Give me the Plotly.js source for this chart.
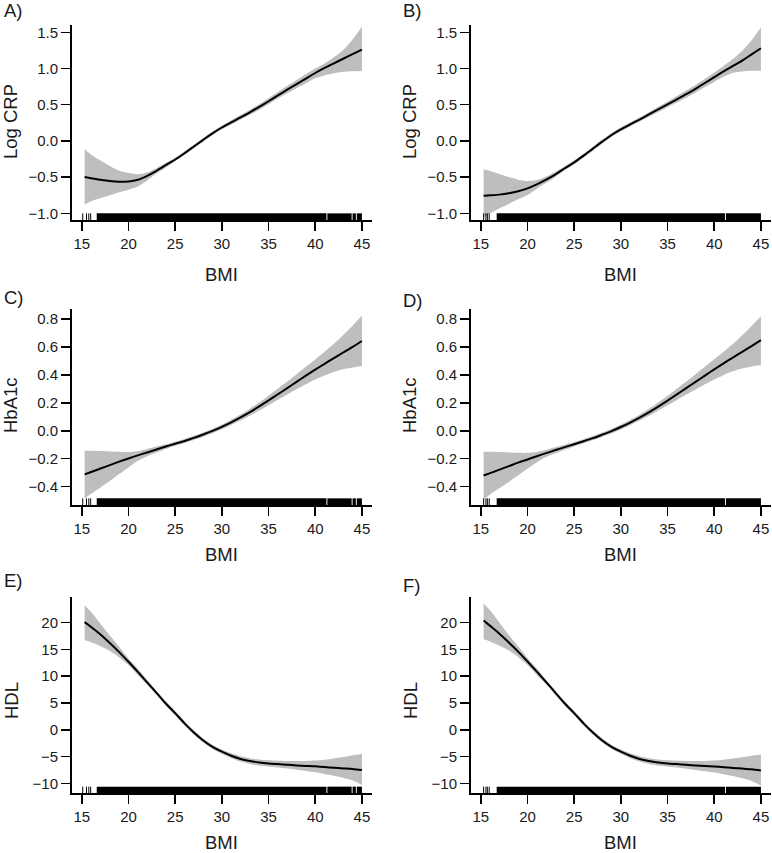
<!DOCTYPE html>
<html>
<head>
<meta charset="utf-8">
<script src="https://cdn.plot.ly/plotly-3.0.1.min.js"></script>
<style>html,body{margin:0;padding:0;background:#fff;}#chart{width:772px;height:853px;}</style>
</head>
<body>
<div id="chart"></div>
<script>
// ---------- data ----------
const bmi = [15.3,16,17,18,19,20,21,22,23,24,25,26,27,28,29,30,31,32,33,34,35,36,37,38,39,40,41,42,43,44,45];

const crpA_fit = [-0.50,-0.515,-0.537,-0.555,-0.564,-0.56,-0.537,-0.482,-0.413,-0.335,-0.257,-0.17,-0.078,0.014,0.105,0.185,0.257,0.325,0.395,0.47,0.548,0.628,0.707,0.784,0.861,0.938,1.008,1.072,1.135,1.198,1.26];
const crpA_hi  = [-0.115,-0.19,-0.27,-0.345,-0.41,-0.445,-0.46,-0.435,-0.376,-0.303,-0.232,-0.145,-0.053,0.039,0.13,0.21,0.287,0.357,0.43,0.508,0.59,0.675,0.757,0.84,0.922,1.0,1.07,1.155,1.255,1.40,1.58];
const crpA_lo  = [-0.88,-0.835,-0.79,-0.75,-0.71,-0.674,-0.63,-0.546,-0.45,-0.367,-0.282,-0.195,-0.103,-0.011,0.08,0.16,0.227,0.293,0.36,0.432,0.506,0.585,0.657,0.728,0.797,0.865,0.905,0.935,0.955,0.963,0.965];

const crpB_fit = [-0.756,-0.751,-0.742,-0.724,-0.696,-0.655,-0.60,-0.535,-0.461,-0.378,-0.296,-0.204,-0.107,-0.01,0.082,0.16,0.228,0.295,0.365,0.435,0.505,0.575,0.645,0.72,0.80,0.88,0.96,1.035,1.11,1.195,1.28];
const crpB_hi  = [-0.39,-0.415,-0.457,-0.50,-0.535,-0.553,-0.54,-0.49,-0.425,-0.35,-0.268,-0.176,-0.079,0.018,0.11,0.188,0.256,0.325,0.397,0.471,0.545,0.62,0.695,0.773,0.857,0.945,1.035,1.13,1.245,1.39,1.57];
const crpB_lo  = [-1.06,-1.0,-0.93,-0.87,-0.807,-0.747,-0.66,-0.578,-0.497,-0.406,-0.324,-0.232,-0.135,-0.038,0.054,0.132,0.20,0.265,0.333,0.399,0.465,0.53,0.595,0.667,0.743,0.815,0.885,0.94,0.96,0.968,0.97];

const hbC_fit = [-0.312,-0.295,-0.27,-0.246,-0.221,-0.198,-0.176,-0.155,-0.134,-0.113,-0.093,-0.073,-0.051,-0.027,-0.001,0.028,0.06,0.095,0.133,0.174,0.217,0.261,0.305,0.35,0.394,0.437,0.479,0.52,0.56,0.60,0.642];
const hbC_hi  = [-0.143,-0.143,-0.145,-0.148,-0.15,-0.152,-0.146,-0.13,-0.113,-0.096,-0.078,-0.058,-0.036,-0.012,0.015,0.045,0.079,0.116,0.158,0.203,0.251,0.302,0.352,0.405,0.458,0.51,0.565,0.623,0.686,0.752,0.824];
const hbC_lo  = [-0.484,-0.45,-0.405,-0.36,-0.31,-0.262,-0.215,-0.182,-0.156,-0.131,-0.108,-0.088,-0.066,-0.042,-0.017,0.011,0.041,0.074,0.108,0.145,0.183,0.222,0.26,0.297,0.332,0.366,0.395,0.42,0.44,0.453,0.463];

const hbD_fit = [-0.32,-0.303,-0.278,-0.253,-0.228,-0.205,-0.182,-0.16,-0.138,-0.117,-0.096,-0.075,-0.053,-0.028,-0.002,0.027,0.059,0.094,0.132,0.173,0.216,0.26,0.305,0.35,0.395,0.439,0.482,0.524,0.565,0.606,0.648];
const hbD_hi  = [-0.15,-0.15,-0.152,-0.155,-0.157,-0.158,-0.151,-0.136,-0.117,-0.1,-0.081,-0.06,-0.038,-0.013,0.014,0.044,0.078,0.115,0.157,0.202,0.25,0.301,0.352,0.405,0.458,0.511,0.565,0.622,0.684,0.75,0.82];
const hbD_lo  = [-0.49,-0.455,-0.41,-0.366,-0.318,-0.272,-0.225,-0.188,-0.161,-0.136,-0.112,-0.09,-0.068,-0.043,-0.018,0.01,0.04,0.073,0.107,0.144,0.182,0.221,0.259,0.296,0.333,0.367,0.398,0.425,0.446,0.46,0.47];

const hdlE_fit = [20.1,19.2,17.8,16.2,14.5,12.7,10.8,8.85,6.9,4.9,3.1,1.2,-0.5,-2.0,-3.2,-4.1,-4.85,-5.45,-5.85,-6.12,-6.3,-6.42,-6.54,-6.66,-6.75,-6.84,-6.97,-7.1,-7.22,-7.34,-7.53];
const hdlE_hi  = [23.2,22.0,19.8,17.6,15.5,13.3,11.4,9.3,7.3,5.3,3.5,1.6,-0.1,-1.6,-2.8,-3.7,-4.4,-4.95,-5.3,-5.55,-5.72,-5.78,-5.82,-5.85,-5.82,-5.75,-5.6,-5.35,-5.1,-4.8,-4.55];
const hdlE_lo  = [16.7,16.35,15.6,14.7,13.5,12.1,10.2,8.4,6.5,4.5,2.7,0.8,-0.9,-2.4,-3.6,-4.5,-5.3,-5.95,-6.4,-6.7,-6.88,-7.06,-7.26,-7.47,-7.7,-7.96,-8.27,-8.6,-9.0,-9.45,-10.3];

const hdlF_fit = [20.4,19.4,17.95,16.3,14.6,12.75,10.85,8.9,6.9,4.9,3.1,1.2,-0.5,-2.0,-3.2,-4.1,-4.85,-5.45,-5.85,-6.12,-6.3,-6.42,-6.55,-6.67,-6.77,-6.87,-7.0,-7.13,-7.26,-7.4,-7.6];
const hdlF_hi  = [23.6,22.3,20.0,17.7,15.6,13.4,11.45,9.35,7.3,5.3,3.5,1.6,-0.1,-1.6,-2.8,-3.7,-4.4,-4.95,-5.3,-5.55,-5.72,-5.78,-5.82,-5.85,-5.82,-5.75,-5.6,-5.38,-5.13,-4.85,-4.6];
const hdlF_lo  = [16.9,16.5,15.7,14.8,13.6,12.1,10.25,8.45,6.5,4.5,2.7,0.8,-0.9,-2.4,-3.6,-4.5,-5.3,-5.95,-6.4,-6.7,-6.88,-7.07,-7.28,-7.5,-7.74,-8.0,-8.32,-8.66,-9.07,-9.55,-10.4];

// rug (observed BMI values): isolated ticks and dense runs
const rugLeftSingles  = [15.1, 15.5, 15.75, 15.95];
const rugLeftRunStart = [16.6, 41.3, 44.0, 44.45];
const rugLeftRunEnd   = [41.2, 43.9, 44.35, 45.0];
const rugRightSingles  = [15.3, 15.55, 15.7, 15.9];
const rugRightRunStart = [16.7, 41.25];
const rugRightRunEnd   = [41.15, 45.0];

const xTicks = [15, 20, 25, 30, 35, 40, 45];
const crpTicks = [-1.0, -0.5, 0.0, 0.5, 1.0, 1.5];
const crpTickText = ["\u22121.0", "\u22120.5", "0.0", "0.5", "1.0", "1.5"];
const hbTicks = [-0.4, -0.2, 0.0, 0.2, 0.4, 0.6, 0.8];
const hbTickText = ["\u22120.4", "\u22120.2", "0.0", "0.2", "0.4", "0.6", "0.8"];
const hdlTicks = [-10, -5, 0, 5, 10, 15, 20];
const hdlTickText = ["\u221210", "\u22125", "0", "5", "10", "15", "20"];

const panelLabels = ["A)", "B)", "C)", "D)", "E)", "F)"];
const yTitles = ["Log CRP", "Log CRP", "HbA1c", "HbA1c", "HDL", "HDL"];
const xTitle = "BMI";

// ---------- layout geometry ----------
const W = 772, H = 853;
const colPx = [[72, 372], [471, 771]];
const rowPx = [[25, 220], [309.3, 505], [597.3, 793.3]];
const xRange = [13.95, 46.08];
const yRanges = [[-1.0925, 1.601], [-0.531, 0.869], [-11.87, 24.74]];
const labelPos = [[2, 10], [401, 10], [2, 298], [401, 300], [2, 580], [401, 585]];
const yTitleY = [122, 122, 405, 405, 701, 701];
const xTitleY = [274.5, 274.5, 554.5, 554.5, 842, 842];

const panels = [
  {fit: crpA_fit, hi: crpA_hi, lo: crpA_lo, ticks: crpTicks, text: crpTickText, side: 0},
  {fit: crpB_fit, hi: crpB_hi, lo: crpB_lo, ticks: crpTicks, text: crpTickText, side: 1},
  {fit: hbC_fit,  hi: hbC_hi,  lo: hbC_lo,  ticks: hbTicks,  text: hbTickText,  side: 0},
  {fit: hbD_fit,  hi: hbD_hi,  lo: hbD_lo,  ticks: hbTicks,  text: hbTickText,  side: 1},
  {fit: hdlE_fit, hi: hdlE_hi, lo: hdlE_lo, ticks: hdlTicks, text: hdlTickText, side: 0},
  {fit: hdlF_fit, hi: hdlF_hi, lo: hdlF_lo, ticks: hdlTicks, text: hdlTickText, side: 1}
];

const FONT = "Liberation Sans, Arial, Helvetica, sans-serif";
const traces = [];
const shapes = [];
const annotations = [];
const layout = {
  width: W, height: H,
  margin: {l: 0, r: 0, t: 0, b: 0},
  paper_bgcolor: "#ffffff", plot_bgcolor: "rgba(0,0,0,0)",
  showlegend: false,
  font: {family: FONT, color: "#1a1a1a"},
  shapes: shapes, annotations: annotations
};

panels.forEach((p, i) => {
  const n = i + 1;
  const xa = n === 1 ? "x" : "x" + n;
  const ya = n === 1 ? "y" : "y" + n;
  const row = Math.floor(i / 2), col = i % 2;
  const cx = colPx[col], ry = rowPx[row];

  // confidence band: lower edge, then upper edge filled to it
  traces.push({
    type: "scatter", mode: "lines", xaxis: xa, yaxis: ya,
    x: bmi, y: p.lo,
    line: {width: 0, color: "rgba(0,0,0,0)", shape: "spline", smoothing: 0.8},
    hoverinfo: "skip"
  });
  traces.push({
    type: "scatter", mode: "lines", xaxis: xa, yaxis: ya,
    x: bmi, y: p.hi, fill: "tonexty", fillcolor: "#bebebe",
    line: {width: 0, color: "rgba(0,0,0,0)", shape: "spline", smoothing: 0.8},
    hoverinfo: "skip"
  });
  // fitted curve
  traces.push({
    type: "scatter", mode: "lines", xaxis: xa, yaxis: ya,
    x: bmi, y: p.fit,
    line: {width: 2, color: "#000000", shape: "spline", smoothing: 0.8}
  });

  // rug
  const singles = p.side === 0 ? rugLeftSingles : rugRightSingles;
  const rs = p.side === 0 ? rugLeftRunStart : rugRightRunStart;
  const re = p.side === 0 ? rugLeftRunEnd : rugRightRunEnd;
  singles.forEach(v => shapes.push({
    type: "line", xref: xa, yref: ya + " domain", x0: v, x1: v, y0: 0, y1: 0.034,
    line: {color: "#000", width: 1}
  }));
  rs.forEach((s, k) => shapes.push({
    type: "rect", xref: xa, yref: ya + " domain", x0: s, x1: re[k], y0: 0, y1: 0.034,
    fillcolor: "#000", line: {width: 0}
  }));

  const axCommon = {
    showline: true, linecolor: "#000", linewidth: 2, mirror: false,
    ticks: "outside", ticklen: 9, tickwidth: 1.5, tickcolor: "#000",
    showgrid: false, zeroline: false, fixedrange: true,
    tickfont: {family: FONT, size: 15, color: "#1a1a1a"}
  };
  layout["xaxis" + (n === 1 ? "" : n)] = Object.assign({}, axCommon, {
    domain: [cx[0] / W, cx[1] / W], range: xRange, anchor: ya,
    tickmode: "array", tickvals: xTicks, ticktext: xTicks.map(String)
  });
  layout["yaxis" + (n === 1 ? "" : n)] = Object.assign({}, axCommon, {
    domain: [1 - ry[1] / H, 1 - ry[0] / H], range: yRanges[row], anchor: xa,
    tickmode: "array", tickvals: p.ticks, ticktext: p.text
  });

  // panel label
  annotations.push({
    xref: "paper", yref: "paper", x: labelPos[i][0] / W, y: 1 - labelPos[i][1] / H,
    xanchor: "left", yanchor: "middle", showarrow: false,
    text: panelLabels[i], font: {family: FONT, size: 18.5, color: "#1a1a1a"}
  });
  // y title
  annotations.push({
    xref: "paper", yref: "paper", x: (cx[0] - 61) / W, y: 1 - yTitleY[i] / H,
    xanchor: "center", yanchor: "middle", showarrow: false, textangle: -90,
    text: yTitles[i], font: {family: FONT, size: 18.5, color: "#1a1a1a"}
  });
  // x title
  annotations.push({
    xref: xa, yref: "paper", x: 30, y: 1 - xTitleY[i] / H,
    xanchor: "center", yanchor: "middle", showarrow: false,
    text: xTitle, font: {family: FONT, size: 18.5, color: "#1a1a1a"}
  });
});

Plotly.newPlot("chart", traces, layout, {staticPlot: true, displayModeBar: false});
</script>
</body>
</html>
